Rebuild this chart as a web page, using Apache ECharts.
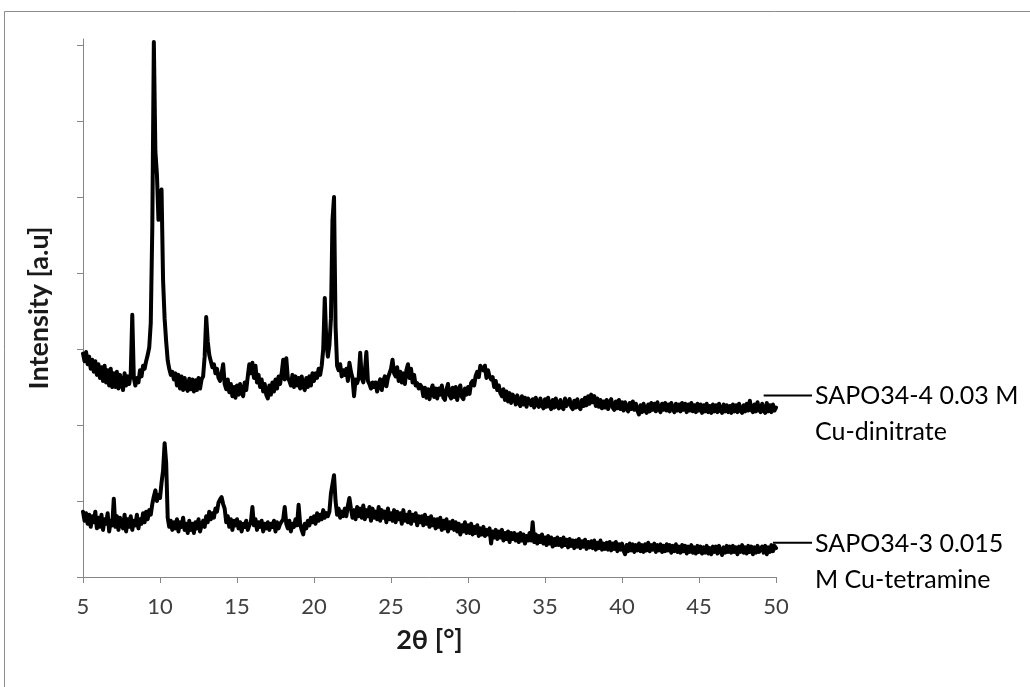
<!DOCTYPE html>
<html>
<head>
<meta charset="utf-8">
<script src="https://cdn.jsdelivr.net/npm/echarts@6/dist/echarts.min.js"></script>
<style>
html,body{margin:0;padding:0;background:#fff;}
#chart{width:1030px;height:687px;}
</style>
</head>
<body>
<div id="chart"></div>
<script>
// 2θ grid of the scans (degrees): start and step
const thetaStart = 5.0;
const thetaStep = 0.1;

// SAPO34-4 0.03 M Cu-dinitrate (offset trace), one value per 0.1°
const sapo34_4 = [
2.94,2.84,2.96,2.80,2.90,2.74,2.86,2.70,2.84,2.66,
2.80,2.62,2.76,2.58,2.78,2.56,2.72,2.52,2.74,2.50,
2.68,2.50,2.70,2.48,2.66,2.56,2.46,2.68,2.52,2.64,
2.54,2.68,3.45,2.62,2.52,2.62,2.56,2.72,2.64,2.78,
2.74,2.84,2.92,3.02,3.34,4.60,7.04,5.60,5.30,4.70,
5.05,5.10,3.90,3.40,3.10,2.85,2.74,2.66,2.70,2.60,
2.68,2.52,2.66,2.48,2.64,2.46,2.62,2.49,2.45,2.61,
2.47,2.60,2.44,2.59,2.46,2.62,2.48,2.60,2.64,2.90,
3.42,3.10,2.92,2.84,2.76,2.80,2.68,2.74,2.62,2.58,
2.68,2.80,2.54,2.47,2.60,2.43,2.54,2.38,2.50,2.36,
2.52,2.40,2.54,2.42,2.38,2.56,2.46,2.64,2.80,2.68,
2.82,2.62,2.78,2.56,2.66,2.50,2.60,2.44,2.54,2.40,
2.35,2.52,2.40,2.56,2.44,2.60,2.48,2.64,2.54,2.68,
2.86,2.60,2.88,2.62,2.58,2.52,2.66,2.50,2.64,2.52,
2.62,2.48,2.64,2.51,2.46,2.62,2.50,2.64,2.52,2.68,
2.58,2.68,2.62,2.74,2.66,2.78,3.00,3.67,3.10,2.90,
3.05,3.40,4.70,5.00,3.30,2.78,2.72,2.80,2.64,2.72,
2.66,2.74,2.58,2.82,2.70,2.62,2.38,2.60,2.55,2.62,
2.95,2.62,2.56,2.70,2.96,2.58,2.54,2.48,2.56,2.50,
2.56,2.44,2.54,2.60,2.46,2.58,2.64,2.51,2.62,2.68,
2.74,2.86,2.68,2.64,2.76,2.58,2.70,2.56,2.68,2.54,
2.72,2.80,2.62,2.74,2.56,2.66,2.52,2.55,2.48,2.53,
2.50,2.38,2.49,2.36,2.47,2.34,2.46,2.52,2.37,2.48,
2.35,2.48,2.40,2.52,2.36,2.33,2.47,2.54,2.39,2.35,
2.49,2.37,2.50,2.33,2.46,2.52,2.37,2.34,2.48,2.40,
2.50,2.41,2.55,2.58,2.52,2.65,2.70,2.63,2.78,2.80,
2.72,2.78,2.62,2.72,2.64,2.60,2.63,2.50,2.58,2.46,
2.52,2.42,2.38,2.47,2.33,2.44,2.31,2.42,2.29,2.40,
2.36,2.27,2.39,2.29,2.25,2.38,2.27,2.36,2.24,2.35,
2.37,2.26,2.34,2.23,2.36,2.27,2.24,2.35,2.26,2.22,
2.34,2.24,2.36,2.25,2.21,2.33,2.23,2.35,2.25,2.22,
2.33,2.24,2.21,2.35,2.25,2.23,2.34,2.24,2.21,2.32,
2.23,2.34,2.24,2.21,2.33,2.25,2.36,2.26,2.38,2.28,
2.40,2.30,2.38,2.25,2.35,2.24,2.33,2.22,2.31,2.23,
2.33,2.21,2.30,2.34,2.23,2.20,2.31,2.22,2.33,2.21,
2.30,2.19,2.30,2.22,2.18,2.29,2.21,2.31,2.20,2.28,
2.19,2.14,2.26,2.17,2.28,2.19,2.16,2.27,2.18,2.29,
2.20,2.28,2.18,2.30,2.21,2.17,2.28,2.20,2.29,2.19,
2.27,2.18,2.29,2.21,2.17,2.28,2.19,2.27,2.18,2.29,
2.20,2.28,2.17,2.27,2.19,2.29,2.18,2.26,2.17,2.28,
2.19,2.27,2.16,2.26,2.18,2.28,2.17,2.25,2.16,2.27,
2.18,2.26,2.17,2.28,2.19,2.16,2.27,2.18,2.26,2.17,
2.25,2.16,2.27,2.18,2.26,2.17,2.28,2.19,2.16,2.26,
2.18,2.28,2.19,2.32,2.20,2.17,2.27,2.18,2.30,2.20,
2.17,2.28,2.19,2.16,2.29,2.18,2.26,2.17,2.27,2.19,
2.23
];

// SAPO34-3 0.015 M Cu-tetramine, one value per 0.1°
const sapo34_3 = [
0.86,0.74,0.84,0.70,0.82,0.66,0.80,0.72,0.86,0.64,
0.78,0.66,0.82,0.62,0.76,0.70,0.84,0.60,0.74,0.68,
1.03,0.66,0.80,0.62,0.78,0.70,0.64,0.82,0.60,0.76,
0.66,0.80,0.62,0.74,0.68,0.82,0.64,0.76,0.70,0.84,
0.72,0.86,0.76,0.88,0.82,0.96,1.06,1.14,1.00,1.08,
1.04,1.24,1.40,1.76,1.50,0.78,0.66,0.74,0.62,0.72,
0.64,0.76,0.60,0.72,0.66,0.78,0.62,0.70,0.58,0.74,
0.62,0.70,0.58,0.72,0.64,0.76,0.60,0.68,0.74,0.66,
0.80,0.72,0.86,0.76,0.84,0.78,0.90,0.86,0.98,1.02,
1.05,0.96,0.90,0.72,0.80,0.66,0.76,0.62,0.74,0.68,
0.76,0.64,0.72,0.60,0.70,0.66,0.74,0.62,0.68,0.72,
0.92,0.68,0.76,0.62,0.72,0.66,0.74,0.60,0.70,0.64,
0.72,0.62,0.70,0.66,0.74,0.60,0.72,0.64,0.70,0.68,
0.76,0.92,0.70,0.64,0.74,0.60,0.70,0.66,0.76,0.68,
0.95,0.70,0.62,0.56,0.70,0.64,0.74,0.68,0.78,0.72,
0.80,0.70,0.84,0.74,0.82,0.76,0.88,0.78,0.84,0.80,
0.86,1.10,1.22,1.34,1.00,0.82,0.90,0.78,0.86,0.80,
0.90,0.80,0.94,1.04,0.90,0.78,0.88,0.76,0.92,0.80,
0.90,0.78,0.94,0.76,0.88,0.80,0.92,0.74,0.90,0.78,
0.86,0.76,0.92,0.74,0.88,0.78,0.86,0.72,0.90,0.76,
0.84,0.74,0.88,0.72,0.86,0.76,0.84,0.70,0.88,0.74,
0.82,0.72,0.86,0.70,0.82,0.74,0.84,0.68,0.80,0.72,
0.80,0.68,0.82,0.70,0.78,0.66,0.80,0.68,0.76,0.64,
0.76,0.66,0.78,0.62,0.74,0.64,0.76,0.60,0.72,0.64,
0.74,0.62,0.72,0.60,0.70,0.56,0.68,0.60,0.72,0.58,
0.68,0.58,0.70,0.56,0.66,0.58,0.68,0.54,0.64,0.56,
0.66,0.54,0.62,0.56,0.64,0.44,0.60,0.52,0.62,0.50,
0.60,0.52,0.62,0.48,0.58,0.50,0.60,0.46,0.58,0.50,
0.58,0.48,0.56,0.46,0.58,0.48,0.56,0.44,0.54,0.48,
0.58,0.48,0.72,0.46,0.56,0.44,0.54,0.46,0.56,0.44,
0.52,0.42,0.54,0.44,0.52,0.40,0.50,0.42,0.52,0.42,
0.50,0.40,0.52,0.42,0.49,0.39,0.50,0.41,0.48,0.38,
0.48,0.40,0.50,0.38,0.47,0.40,0.49,0.37,0.46,0.39,
0.47,0.38,0.48,0.36,0.45,0.38,0.48,0.36,0.44,0.37,
0.45,0.36,0.46,0.35,0.44,0.37,0.46,0.34,0.43,0.36,
0.44,0.35,0.30,0.42,0.34,0.44,0.35,0.43,0.33,0.42,
0.35,0.44,0.34,0.42,0.33,0.43,0.35,0.45,0.34,0.42,
0.36,0.44,0.33,0.42,0.35,0.43,0.33,0.41,0.34,0.43,
0.35,0.42,0.32,0.41,0.34,0.43,0.33,0.40,0.32,0.42,
0.34,0.41,0.31,0.40,0.33,0.42,0.32,0.39,0.31,0.41,
0.33,0.40,0.31,0.39,0.32,0.41,0.31,0.38,0.30,0.40,
0.33,0.40,0.31,0.41,0.34,0.29,0.39,0.32,0.41,0.33,
0.40,0.32,0.41,0.33,0.39,0.30,0.40,0.33,0.42,0.32,
0.39,0.31,0.41,0.33,0.40,0.30,0.39,0.32,0.41,0.33,
0.34,0.40,0.32,0.41,0.30,0.39,0.33,0.42,0.34,0.41,
0.38
];

const xTicks = [5, 10, 15, 20, 25, 30, 35, 40, 45, 50];
const yTicks = [0, 1, 2, 3, 4, 5, 6, 7];
const seriesNames = ['SAPO34-4 0.03 M\nCu-dinitrate', 'SAPO34-3 0.015\nM Cu-tetramine'];
// data-label anchor: where each label's leader line sits (intensity) and starts (2θ)
const labelLevel = [2.39, 0.45];
const labelLineStart = [49.2, 49.8];
const xTitle = '2θ [°]';
const yTitle = 'Intensity [a.u]';

function toPairs(vals) {
  return vals.map((v, i) => [+(thetaStart + i * thetaStep).toFixed(2), v]);
}

const FONT = 'Lato, "Open Sans", sans-serif';
const chart = echarts.init(document.getElementById('chart'), null, {renderer: 'canvas'});

const option = {
  backgroundColor: '#ffffff',
  animation: false,
  grid: {left: 83, right: 254, top: 39, bottom: 110, containLabel: false},
  xAxis: {
    type: 'value',
    min: 5, max: 50, interval: 5,
    axisLine: {show: true, lineStyle: {color: '#868686', width: 1}},
    axisTick: {show: true, length: 6, lineStyle: {color: '#868686'}, customValues: xTicks},
    axisLabel: {color: '#404040', fontSize: 22, fontFamily: FONT, margin: 19, customValues: xTicks},
    splitLine: {show: false},
    name: xTitle,
    nameLocation: 'middle',
    nameGap: 50,
    nameTextStyle: {color: '#1a1a1a', fontSize: 27, fontWeight: 'bold', fontFamily: FONT}
  },
  yAxis: {
    type: 'value',
    min: 0, max: 7.08, interval: 1,
    axisLine: {show: true, lineStyle: {color: '#868686', width: 1}},
    axisTick: {show: true, length: 6, lineStyle: {color: '#868686'}, customValues: yTicks},
    axisLabel: {show: false},
    splitLine: {show: false},
    name: yTitle,
    nameLocation: 'middle',
    nameGap: 30,
    nameRotate: 90,
    nameTextStyle: {color: '#1a1a1a', fontSize: 27, fontWeight: 'bold', fontFamily: FONT}
  },
  series: [
    {
      name: seriesNames[0], type: 'line', data: toPairs(sapo34_4),
      showSymbol: false, symbol: 'none', clip: false,
      lineStyle: {color: '#000000', width: 4, join: 'round', cap: 'round'}
    },
    {
      name: seriesNames[1], type: 'line', data: toPairs(sapo34_3),
      showSymbol: false, symbol: 'none', clip: false,
      lineStyle: {color: '#000000', width: 4, join: 'round', cap: 'round'}
    }
  ]
};
chart.setOption(option);

function drawLabels() {
  const els = [
    {type: 'rect', silent: true, shape: {x: 4.5, y: 11.5, width: 1100, height: 1000},
     style: {fill: null, stroke: '#8c8c8c', lineWidth: 1}, z: -10}
  ];
  const endX = chart.convertToPixel({gridIndex: 0}, [50, 0])[0];
  for (let i = 0; i < seriesNames.length; i++) {
    const p0 = chart.convertToPixel({gridIndex: 0}, [labelLineStart[i], labelLevel[i]]);
    const x1 = endX + 36;
    els.push({type: 'line', silent: true,
      shape: {x1: p0[0], y1: p0[1], x2: x1, y2: p0[1]},
      style: {stroke: '#000000', lineWidth: 2}, z: 10});
    els.push({type: 'text', silent: true, x: x1 + 3, y: p0[1] - 17,
      style: {text: seriesNames[i], fill: '#000000', fontSize: 25, fontFamily: FONT,
              lineHeight: 36, align: 'left', verticalAlign: 'top'}, z: 10});
  }
  chart.setOption({graphic: {elements: els}});
}
drawLabels();
</script>
</body>
</html>
